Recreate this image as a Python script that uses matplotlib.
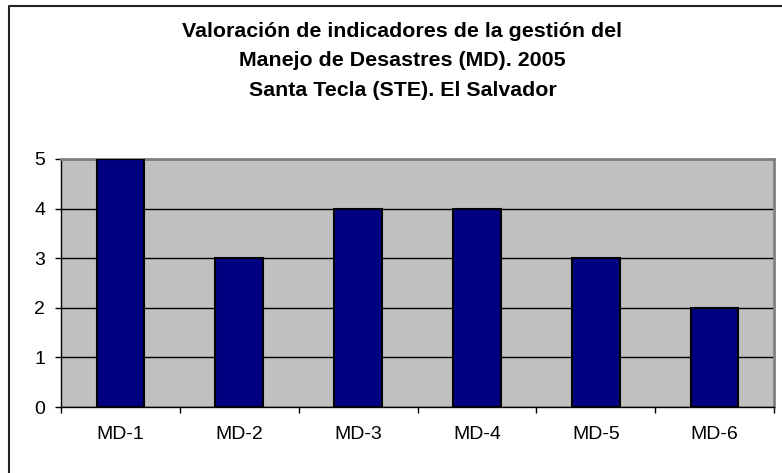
import matplotlib
matplotlib.use("Agg")
import matplotlib.pyplot as plt
import numpy as np
from matplotlib.lines import Line2D

# Data
categories = ["MD-1", "MD-2", "MD-3", "MD-4", "MD-5", "MD-6"]
values = [5, 3, 4, 4, 3, 2]
y_ticks = [0, 1, 2, 3, 4, 5]
title_lines = [
    "Valoración de indicadores de la gestión del",
    "Manejo de Desastres (MD). 2005",
    "Santa Tecla (STE). El Salvador",
]

plt.rcParams["font.family"] = ["Liberation Sans", "DejaVu Sans"]

W, H = 782, 473
fig = plt.figure(figsize=(W / 100, H / 100), dpi=100)
fig.patch.set_facecolor("white")

# plot area in pixel coords
left, right, top, bottom = 61, 774, 159, 407
ax = fig.add_axes([left / W, 1 - bottom / H, (right - left) / W, (bottom - top) / H])
ax.set_facecolor("#C0C0C0")

x = np.arange(len(categories))
ax.set_axisbelow(True)
ax.yaxis.grid(True, color="black", linewidth=1)
ax.bar(x, values, width=0.4, color="#000080", edgecolor="black", linewidth=1.5, zorder=3)

ax.set_xlim(-0.5, len(categories) - 0.5)
ax.set_ylim(0, 5)
ax.set_yticks(y_ticks)
ax.tick_params(axis="y", labelsize=14, length=4.5, width=1, pad=7, direction="out")

ax.set_xticks(x)
ax.set_xticklabels(categories)
ax.set_xticks(np.arange(len(categories) + 1) - 0.5, minor=True)
ax.tick_params(axis="x", which="major", length=0, labelsize=14, pad=14)
ax.tick_params(axis="x", which="minor", length=4.5, width=1, direction="out")

for side in ["top", "right"]:
    ax.spines[side].set_color("#808080")
    ax.spines[side].set_linewidth(2)
for side in ["left", "bottom"]:
    ax.spines[side].set_color("black")
    ax.spines[side].set_linewidth(1)

# Title, one line at a time (baselines in pixels)
for line, base in zip(title_lines, [37, 66.5, 95.5]):
    fig.text(402.5 / W, 1 - base / H, line, ha="center", va="baseline",
             fontsize=15.4, fontweight="bold")

# chart area frame (only top and left visible)
fig.add_artist(Line2D([9 / W, 9 / W, 1.0], [0.0, 1 - 6 / H, 1 - 6 / H],
                      transform=fig.transFigure, color="#222222", linewidth=1.5))

fig.savefig("out.png", dpi=100)
